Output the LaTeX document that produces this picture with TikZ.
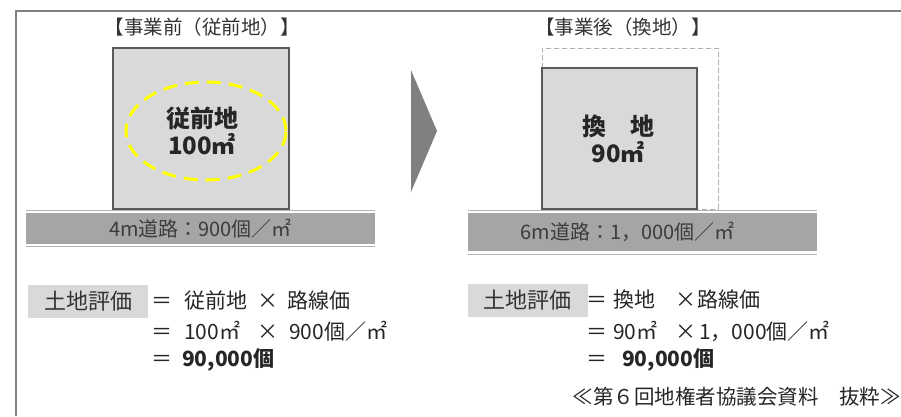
\documentclass[tikz,border=0pt]{standalone}
\usepackage{fontspec}
\setmainfont{Noto Sans CJK JP}
\usetikzlibrary{shapes.geometric}

\definecolor{lotfill}{RGB}{217,217,217}
\definecolor{lotedge}{RGB}{89,89,89}
\definecolor{roadfill}{RGB}{165,165,165}
\definecolor{roadedge}{RGB}{178,178,178}
\definecolor{framegray}{RGB}{128,128,128}
\definecolor{textgray}{RGB}{60,60,60}
\definecolor{ringyellow}{RGB}{255,255,0}

\newcommand{\cellbox}[2]{\makebox[#1pt][l]{#2}}

\tikzset{
  lot/.style={draw=lotedge, line width=1.2pt, fill=lotfill, inner sep=0pt},
  lotlabel/.style={font=\fontsize{24}{27}\selectfont\bfseries, align=center, text=black!85},
  heading/.style={font=\fontsize{19.5}{20}\selectfont, text=black!80},
  road/.style={fill=roadfill, inner sep=0pt, minimum width=349pt, font=\fontsize{20}{20}\selectfont, text=textgray},
  roadline/.style={draw=roadedge, line width=1pt},
  evalbox/.style={fill=lotfill, inner sep=0pt, minimum width=120pt, minimum height=33pt, font=\fontsize{22}{22}\selectfont, text=black!80},
  evalrow/.style={anchor=west, inner sep=0pt, font=\fontsize{21}{21}\selectfont, text=black!85},
}

\begin{document}
\begin{tikzpicture}[x=1pt, y=-1pt]
  \useasboundingbox (0,0) rectangle (901,416);
  % frame
  \draw[framegray, line width=1.5pt] (901,11) -- (16,11) -- (16,416);

  % headings
  \node[heading] (headBefore) at (202,27) {【事業前（従前地）】};
  \node[heading] (headAfter) at (623,27) {【事業後（換地）】};

  % before: lot with ring
  \node[lot, minimum width=176pt, minimum height=161pt] (lotBefore) at (201,128.5) {};
  \node[ellipse, draw=ringyellow, line width=3pt, dash pattern=on 14pt off 8pt,
        minimum width=160pt, minimum height=98pt] (ringBefore) at (206,131) {};
  \node[lotlabel] (labelBefore) at (202,131) {従前地\\100㎡};

  % after: former outline and new lot
  \node[draw=roadedge, line width=0.8pt, dash pattern=on 5pt off 3pt, inner sep=0pt,
        minimum width=176pt, minimum height=161pt] (lotFormer) at (630,128.5) {};
  \node[lot, minimum width=155pt, minimum height=141pt] (lotAfter) at (619.5,138.5) {};
  \node[lotlabel] (labelAfter) at (618,138.5) {換　地\\90㎡};

  % roads
  \node[road, minimum height=31pt] (roadBefore) at (200.5,228.5) {4m道路：900個／㎡};
  \draw[roadline] ([yshift=2pt]roadBefore.north west) -- ([yshift=2pt]roadBefore.north east);
  \draw[roadline] ([yshift=-2.5pt]roadBefore.south west) -- ([yshift=-2.5pt]roadBefore.south east);

  \node[road, minimum height=38pt] (roadAfter) at (642.5,232) {6m道路：1，000個／㎡\hspace*{30pt}};
  \draw[roadline] ([yshift=2.5pt]roadAfter.north west) -- ([yshift=2.5pt]roadAfter.north east);
  \draw[roadline] ([yshift=-3.5pt]roadAfter.south west) -- ([yshift=-3.5pt]roadAfter.south east);

  % arrow between
  \fill[framegray] (411,70) -- (437,131) -- (411,192) -- cycle;

  % evaluation, before
  \node[evalbox] (evalBefore) at (88,301.5) {土地評価};
  \node[evalrow] (rowBeforeA) at (151,300) {\cellbox{33}{＝}\cellbox{73}{従前地}\cellbox{30}{×}路線価};
  \node[evalrow] (rowBeforeB) at (151,331) {\cellbox{33}{＝}\cellbox{73}{100㎡}\cellbox{32}{×}900個／㎡};
  \node[evalrow] (rowBeforeC) at (151,360) {\cellbox{31}{＝}{\bfseries 90,000個}};

  % evaluation, after
  \node[evalbox] (evalAfter) at (527.5,300.5) {土地評価};
  \node[evalrow] (rowAfterA) at (586,300) {\cellbox{27}{＝}\cellbox{62}{換地}\cellbox{22}{×}路線価};
  \node[evalrow] (rowAfterB) at (586,331) {\cellbox{27}{＝}\cellbox{62}{90㎡}\cellbox{24}{×}1，000個／㎡};
  \node[evalrow] (rowAfterC) at (586,360) {\cellbox{36}{＝}{\bfseries 90,000個}};

  % source
  \node[anchor=east, inner sep=0pt, font=\fontsize{20.5}{20.5}\selectfont, text=black!85] (source) at (901,397) {≪第６回地権者協議会資料　抜粋≫};
\end{tikzpicture}
\end{document}
